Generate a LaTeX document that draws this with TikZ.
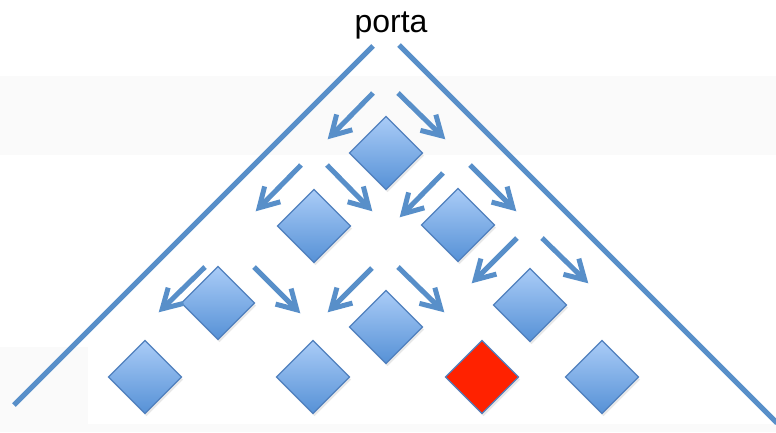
\documentclass[tikz,border=0pt]{standalone}
\usepackage{fontspec}
\setmainfont{Liberation Sans}
\usetikzlibrary{shapes.geometric,arrows.meta,shadows}
\definecolor{lineblue}{RGB}{88,143,201}
\definecolor{edgeblue}{RGB}{80,128,190}
\definecolor{topblue}{RGB}{170,204,247}
\definecolor{botblue}{RGB}{86,145,214}
\definecolor{redfill}{RGB}{255,34,0}
\definecolor{bandgray}{RGB}{250,250,250}
\tikzset{
  dia/.style={diamond, aspect=1, minimum width=73pt, minimum height=73pt, inner sep=0pt, outer sep=0pt,
    draw=edgeblue, line width=1.2pt, top color=topblue, bottom color=botblue,
    drop shadow={opacity=0.18, shadow xshift=1.5pt, shadow yshift=-2.5pt}},
  reddia/.style={dia, fill=redfill, top color=redfill, bottom color=redfill},
  wall/.style={draw=lineblue, line width=5pt},
  arr/.style={draw=lineblue, line width=5pt, -{Straight Barb[length=19pt,width=22pt]}, shorten >=1pt}
}
\begin{document}
\begin{tikzpicture}[x=1pt,y=-1pt]
\useasboundingbox (0,0) rectangle (776,432);
\fill[white] (0,0) rectangle (776,432);
\fill[bandgray] (0,76) rectangle (776,155);
\fill[bandgray] (0,347) rectangle (776,432);
\fill[white] (88,347) rectangle (776,424);

\node[anchor=base] (title) at (391,32) {\fontsize{32}{38}\selectfont porta};

% walls
\coordinate (wl1) at (373,46); \coordinate (wl2) at (14,405);
\coordinate (wr1) at (399,45); \coordinate (wr2) at (777,423);
\draw[wall] (wl1) -- (wl2);
\draw[wall] (wr1) -- (wr2);

% diamonds
\node[dia] (d1) at (386,153) {};
\node[dia] (d2) at (314,226) {};
\node[dia] (d3) at (458,225) {};
\node[dia] (d4) at (218,303) {};
\node[dia] (d5) at (386,327) {};
\node[dia] (d6) at (530,305) {};
\node[dia] (d7) at (145,377) {};
\node[dia] (d8) at (313,377) {};
\node[reddia] (d9) at (482,377) {};
\node[dia] (d10) at (602,377) {};

% arrows
\coordinate (a1s) at (373,93);  \coordinate (a1e) at (327,140);
\coordinate (a2s) at (398,93);  \coordinate (a2e) at (446,140);
\coordinate (a3s) at (301,165); \coordinate (a3e) at (255,212);
\coordinate (a4s) at (327,165); \coordinate (a4e) at (373,212);
\coordinate (a5s) at (443,173); \coordinate (a5e) at (399,218);
\coordinate (a6s) at (470,165); \coordinate (a6e) at (517,212);
\coordinate (a7s) at (517,238); \coordinate (a7e) at (471,284);
\coordinate (a8s) at (542,238); \coordinate (a8e) at (589,284);
\coordinate (a9s) at (205,267); \coordinate (a9e) at (158,313);
\coordinate (a10s) at (254,267); \coordinate (a10e) at (301,314);
\coordinate (a11s) at (372,268); \coordinate (a11e) at (327,313);
\coordinate (a12s) at (398,267); \coordinate (a12e) at (445,313);
\foreach \i in {1,...,12} {\draw[arr] (a\i s) -- (a\i e);}
\end{tikzpicture}
\end{document}
